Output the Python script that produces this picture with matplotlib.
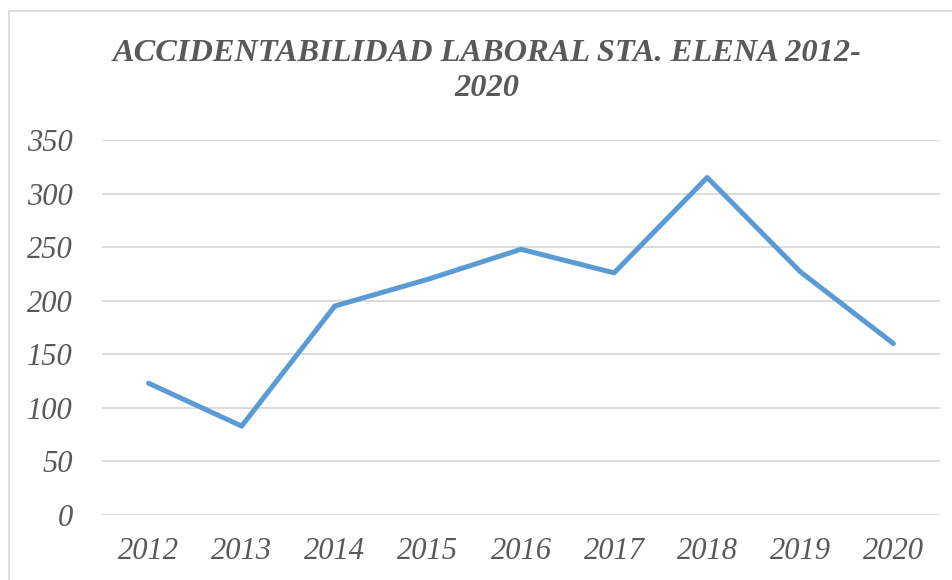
import matplotlib.pyplot as plt
from matplotlib.patches import Rectangle

years = ['2012', '2013', '2014', '2015', '2016', '2017', '2018', '2019', '2020']
accidents = [123, 83, 195, 220, 248, 226, 315, 227, 160]
y_ticks = [0, 50, 100, 150, 200, 250, 300, 350]

W, H = 953, 580
fig = plt.figure(figsize=(W / 100, H / 100), dpi=100)
plt.rcParams['font.family'] = ['Liberation Serif', 'DejaVu Serif']

# chart frame (runs off the right and bottom edges)
fig.patches.append(Rectangle((9 / W, -0.1), 1.1, 1 - 11 / H + 0.1,
                             transform=fig.transFigure, fill=False,
                             edgecolor='#D9D9D9', linewidth=1.2))

ax = fig.add_axes([102 / W, 1 - 515 / H, (940 - 102) / W, (515 - 140) / H])
x = list(range(len(years)))
ax.plot(x, accidents, color='#5B9BD5', linewidth=3.6, solid_capstyle='round',
        solid_joinstyle='round')

ax.set_xlim(-0.5, len(years) - 0.5)
ax.set_ylim(0, 350)
ax.set_yticks(y_ticks)
ax.set_xticks(x)
ax.set_xticklabels(years)
for s in ax.spines.values():
    s.set_visible(False)
ax.yaxis.grid(True, color='#D9D9D9', linewidth=1.3)
ax.set_axisbelow(True)
ax.tick_params(length=0, labelsize=22, labelcolor='#595959')
ax.tick_params(axis='y', pad=21)
ax.tick_params(axis='x', pad=16)
for lab in ax.get_xticklabels() + ax.get_yticklabels():
    lab.set_style('italic')

fig.text(487 / W, 1 - 71 / H, 'ACCIDENTABILIDAD LABORAL STA. ELENA 2012-\n2020',
         ha='center', va='center', fontsize=23.3, fontweight='bold',
         style='italic', color='#595959', linespacing=1.3)

fig.savefig('out.png', dpi=100)
